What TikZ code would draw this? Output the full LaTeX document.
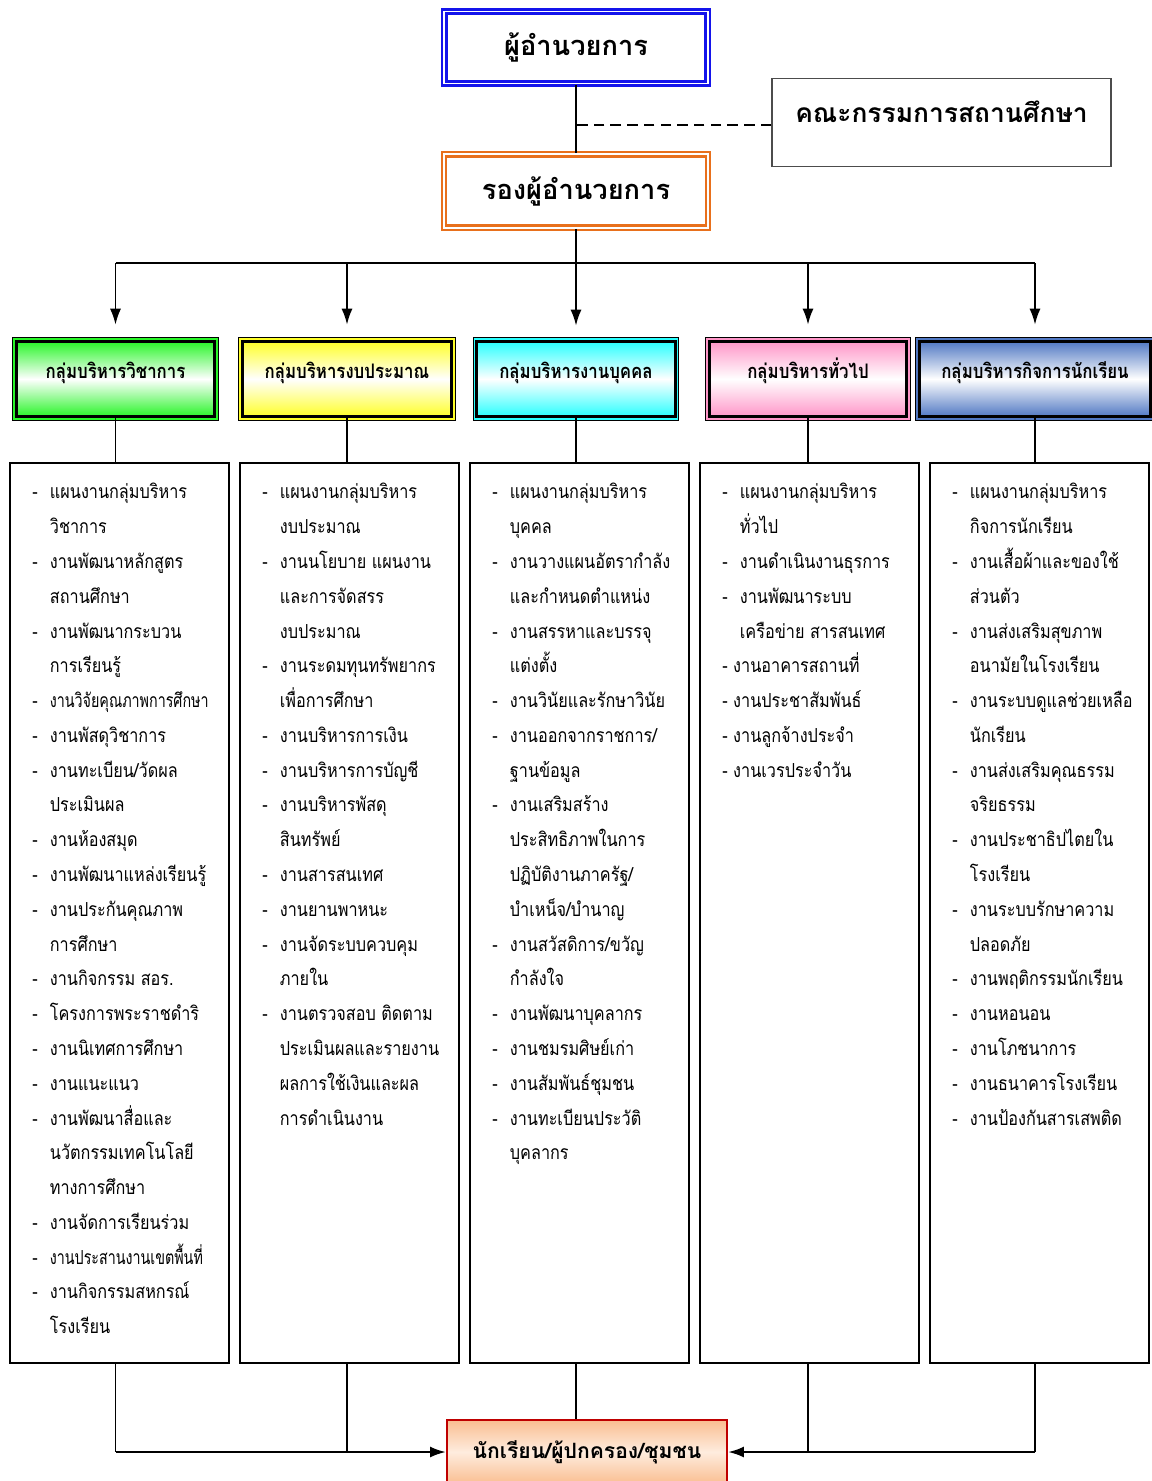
\documentclass[tikz,border=0pt]{standalone}
\usepackage{fontspec}
\usepackage{graphicx}
\newfontfamily\thaifont[Script=Thai, FakeStretch=0.84]{Loma}
\newfontfamily\thaihead[Script=Thai]{Loma}
\usetikzlibrary{arrows.meta}

\definecolor{dirblue}{RGB}{20,20,235}
\definecolor{deporange}{RGB}{232,112,28}
\definecolor{grpgreen}{RGB}{40,245,40}
\definecolor{grpyellow}{RGB}{255,255,40}
\definecolor{grpcyan}{RGB}{40,255,255}
\definecolor{grppink}{RGB}{255,150,200}
\definecolor{grpblue}{RGB}{80,120,195}
\definecolor{peach}{RGB}{250,190,145}
\definecolor{peachlight}{RGB}{254,236,222}

\newcommand{\ditem}[1]{\makebox[10pt][l]{-}#1}
\newcommand{\dcont}[1]{\hspace*{10pt}#1}
\newcommand{\sqz}[1]{\scalebox{0.88}[1]{#1}}

\begin{document}
\begin{tikzpicture}[
		x=0.02cm, y=-0.02cm,
		>={Latex[length=3.2mm,width=2.2mm]},
		head node/.style={draw=#1, line width=1.3pt, double=white, double distance=1.1pt, fill=white, font=\thaihead\bfseries\fontsize{15.5}{18}\selectfont},
		comm node/.style={draw=black!70, line width=0.9pt, minimum width=6.78cm, inner ysep=0pt, text height=25pt, text depth=25pt, font=\thaihead\bfseries\fontsize{15}{18}\selectfont},
		group node/.style={preaction={draw=black, line width=4.5pt}, preaction={draw=#1, line width=3.4pt}, draw=black, line width=1.7pt, top color=#1, bottom color=#1, middle color=white, inner ysep=0pt, text height=21pt, text depth=22pt, font=\thaifont\bfseries\fontsize{11.4}{13}\selectfont},
		list box/.style={draw=black, line width=1.2pt, minimum width=4.38cm, minimum height=18cm},
		list text/.style={anchor=north west, inner sep=0pt, align=left, font=\thaifont\fontsize{11}{19.8}\selectfont},
		target node/.style={draw=red!75!black, line width=1.1pt, top color=peach, bottom color=peach, middle color=peachlight, minimum width=5.6cm, minimum height=1.28cm, font=\thaihead\bfseries\fontsize{12}{14}\selectfont}
	]
		\useasboundingbox (0,0) rectangle (1152,1481);

		\node[head node=dirblue, minimum width=5.27cm, minimum height=1.44cm] (dir) at (576,47.5) {ผู้อำนวยการ};
		\node[head node=deporange, minimum width=5.28cm, minimum height=1.47cm] (dep) at (576,191) {รองผู้อำนวยการ};
		\node[comm node] (comm) at (941.5,122.5) {คณะกรรมการสถานศึกษา};

		\node[group node=grpgreen, minimum width=3.98cm] (g1) at (115.5,379) {กลุ่มบริหารวิชาการ};
		\node[group node=grpyellow, minimum width=4.2cm] (g2) at (347,379) {กลุ่มบริหารงบประมาณ};
		\node[group node=grpcyan, minimum width=3.98cm] (g3) at (576,379) {กลุ่มบริหารงานบุคคล};
		\node[group node=grppink, minimum width=3.96cm] (g4) at (808,379) {กลุ่มบริหารทั่วไป};
		\node[group node=grpblue, minimum width=4.64cm] (g5) at (1035,379) {กลุ่มบริหารกิจการนักเรียน};

		\node[list box] (l1) at (119.5,913) {};
		\node[list box] (l2) at (349.5,913) {};
		\node[list box] (l3) at (579.5,913) {};
		\node[list box] (l4) at (809.5,913) {};
		\node[list box] (l5) at (1039.5,913) {};

		\node[target node] (tgt) at (587,1452) {นักเรียน/ผู้ปกครอง/ชุมชน};

		% lists of tasks
		\node[list text] (t1) at (32,483) {\ditem{แผนงานกลุ่มบริหาร}\\ \dcont{วิชาการ}\\ \ditem{งานพัฒนาหลักสูตร}\\ \dcont{สถานศึกษา}\\ \ditem{งานพัฒนากระบวน}\\ \dcont{การเรียนรู้}\\ \ditem{\sqz{งานวิจัยคุณภาพการศึกษา}}\\ \ditem{งานพัสดุวิชาการ}\\ \ditem{งานทะเบียน/วัดผล}\\ \dcont{ประเมินผล}\\ \ditem{งานห้องสมุด}\\ \ditem{งานพัฒนาแหล่งเรียนรู้}\\ \ditem{งานประกันคุณภาพ}\\ \dcont{การศึกษา}\\ \ditem{งานกิจกรรม สอร.}\\ \ditem{โครงการพระราชดำริ}\\ \ditem{งานนิเทศการศึกษา}\\ \ditem{งานแนะแนว}\\ \ditem{งานพัฒนาสื่อและ}\\ \dcont{นวัตกรรมเทคโนโลยี}\\ \dcont{ทางการศึกษา}\\ \ditem{งานจัดการเรียนร่วม}\\ \ditem{\sqz{งานประสานงานเขตพื้นที่}}\\ \ditem{งานกิจกรรมสหกรณ์}\\ \dcont{โรงเรียน}};
		\node[list text] (t2) at (262,483) {\ditem{แผนงานกลุ่มบริหาร}\\ \dcont{งบประมาณ}\\ \ditem{งานนโยบาย แผนงาน}\\ \dcont{และการจัดสรร}\\ \dcont{งบประมาณ}\\ \ditem{งานระดมทุนทรัพยากร}\\ \dcont{เพื่อการศึกษา}\\ \ditem{งานบริหารการเงิน}\\ \ditem{งานบริหารการบัญชี}\\ \ditem{งานบริหารพัสดุ}\\ \dcont{สินทรัพย์}\\ \ditem{งานสารสนเทศ}\\ \ditem{งานยานพาหนะ}\\ \ditem{งานจัดระบบควบคุม}\\ \dcont{ภายใน}\\ \ditem{งานตรวจสอบ ติดตาม}\\ \dcont{ประเมินผลและรายงาน}\\ \dcont{ผลการใช้เงินและผล}\\ \dcont{การดำเนินงาน}};
		\node[list text] (t3) at (492,483) {\ditem{แผนงานกลุ่มบริหาร}\\ \dcont{บุคคล}\\ \ditem{งานวางแผนอัตรากำลัง}\\ \dcont{และกำหนดตำแหน่ง}\\ \ditem{งานสรรหาและบรรจุ}\\ \dcont{แต่งตั้ง}\\ \ditem{งานวินัยและรักษาวินัย}\\ \ditem{งานออกจากราชการ/}\\ \dcont{ฐานข้อมูล}\\ \ditem{งานเสริมสร้าง}\\ \dcont{ประสิทธิภาพในการ}\\ \dcont{ปฏิบัติงานภาครัฐ/}\\ \dcont{บำเหน็จ/บำนาญ}\\ \ditem{งานสวัสดิการ/ขวัญ}\\ \dcont{กำลังใจ}\\ \ditem{งานพัฒนาบุคลากร}\\ \ditem{งานชมรมศิษย์เก่า}\\ \ditem{งานสัมพันธ์ชุมชน}\\ \ditem{งานทะเบียนประวัติ}\\ \dcont{บุคลากร}};
		\node[list text] (t4) at (722,483) {\ditem{แผนงานกลุ่มบริหาร}\\ \dcont{ทั่วไป}\\ \ditem{งานดำเนินงานธุรการ}\\ \ditem{งานพัฒนาระบบ}\\ \dcont{เครือข่าย สารสนเทศ}\\ - งานอาคารสถานที่\\ - งานประชาสัมพันธ์\\ - งานลูกจ้างประจำ\\ - งานเวรประจำวัน};
		\node[list text] (t5) at (952,483) {\ditem{แผนงานกลุ่มบริหาร}\\ \dcont{กิจการนักเรียน}\\ \ditem{งานเสื้อผ้าและของใช้}\\ \dcont{ส่วนตัว}\\ \ditem{งานส่งเสริมสุขภาพ}\\ \dcont{อนามัยในโรงเรียน}\\ \ditem{งานระบบดูแลช่วยเหลือ}\\ \dcont{นักเรียน}\\ \ditem{งานส่งเสริมคุณธรรม}\\ \dcont{จริยธรรม}\\ \ditem{งานประชาธิปไตยใน}\\ \dcont{โรงเรียน}\\ \ditem{งานระบบรักษาความ}\\ \dcont{ปลอดภัย}\\ \ditem{งานพฤติกรรมนักเรียน}\\ \ditem{งานหอนอน}\\ \ditem{งานโภชนาการ}\\ \ditem{งานธนาคารโรงเรียน}\\ \ditem{งานป้องกันสารเสพติด}};

		% top part
		\coordinate (bus) at (576,263);
		\draw[line width=1.4pt] (dir.south) -- (dep.north);
		\draw[line width=1.2pt, dash pattern=on 6pt off 3.5pt] ([yshift=-0.05cm]comm.west) -- ([yshift=-0.05cm]comm.west -| dir.south);
		\draw[line width=1.7pt] (g1.north |- bus) -- (g5.north |- bus);
		\draw[->, line width=1.1pt, shorten >=0.28cm] (dep.south) -- (g3.north);
		\foreach \g in {1,2,4,5} {
			\draw[->, line width=1.1pt, shorten >=0.3cm] (g\g.north |- bus) -- (g\g.north);
		}

		\foreach \i in {1,...,5} {
			\draw[line width=0.8pt] (g\i.south) -- (g\i.south |- l\i.north);
		}

		% bottom part
		\foreach \i in {1,2} {
			\draw[line width=0.7pt] (g\i.south |- l\i.south) -- (g\i.south |- tgt.west);
		}
		\foreach \i in {4,5} {
			\draw[line width=0.7pt] (g\i.south |- l\i.south) -- (g\i.south |- tgt.east);
		}
		\draw[line width=0.7pt] (g3.south |- l3.south) -- (g3.south |- tgt.north);
		\draw[->, line width=1.4pt] (g1.south |- tgt.west) -- (tgt.west);
		\draw[->, line width=1.4pt] (g5.south |- tgt.east) -- (tgt.east);

	\end{tikzpicture}
\end{document}
